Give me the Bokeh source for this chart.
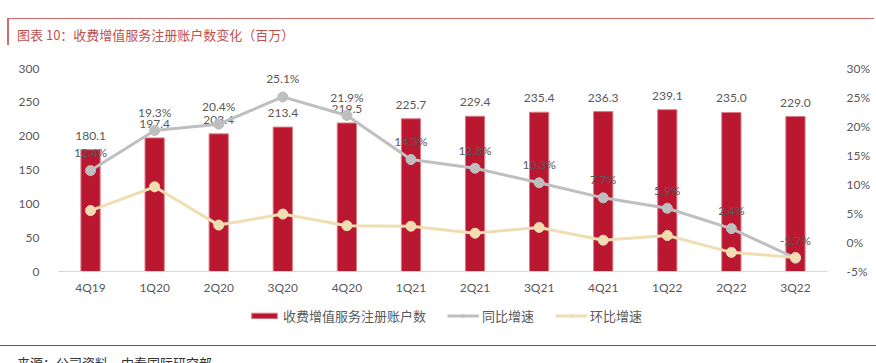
from bokeh.plotting import figure
from bokeh.models import (ColumnDataSource, Range1d, FactorRange, LinearAxis, Div,
                          Legend, LegendItem, PrintfTickFormatter, FixedTicker)
from bokeh.layouts import column
from bokeh.core.properties import value
from bokeh.embed import file_html
from bokeh.resources import INLINE

quarters = ["4Q19", "1Q20", "2Q20", "3Q20", "4Q20", "1Q21", "2Q21", "3Q21",
            "4Q21", "1Q22", "2Q22", "3Q22"]
accounts = [180.1, 197.4, 203.4, 213.4, 219.5, 225.7, 229.4, 235.4, 236.3, 239.1, 235.0, 229.0]
yoy = [12.4, 19.3, 20.4, 25.1, 21.9, 14.3, 12.8, 10.3, 7.7, 5.9, 2.4, -2.7]
qoq = [5.5, 9.6, 3.0, 4.9, 2.9, 2.8, 1.6, 2.6, 0.4, 1.2, -1.7, -2.6]
left_ticks = [0, 50, 100, 150, 200, 250, 300]
right_ticks = [-5, 0, 5, 10, 15, 20, 25, 30]

title_text = "图表 10：收费增值服务注册账户数变化（百万）"
source_text = "来源：公司资料，中泰国际研究部"
bar_name = "收费增值服务注册账户数"
yoy_name = "同比增速"
qoq_name = "环比增速"

W = 876
NUM_FONT = "Lato"
CJK_FONT = "Noto Sans CJK SC"
TXT = "#595959"
BAR_FILL, BAR_LINE = "#BA1830", "#DB7A86"
YOY_C, QOQ_C = "#BFBFBF", "#F0DEB2"

src = ColumnDataSource(dict(
    q=quarters, acc=accounts, yoy=yoy, qoq=qoq,
    acc_txt=[f"{v:.1f}" for v in accounts],
    yoy_txt=[f"{v:.1f}%" for v in yoy],
))

title_div = Div(text=title_text, width=W - 9, height=27, margin=(18, 0, 3, 7),
                styles={"border-top": "1.5px solid #D46A6A",
                        "border-left": "2px solid #D46A6A",
                        "box-sizing": "border-box",
                        "padding-left": "8px", "padding-top": "8px",
                        "line-height": "15px",
                        "font-family": CJK_FONT, "font-size": "13px",
                        "color": "#C0504D", "white-space": "nowrap"})

p = figure(x_range=FactorRange(*quarters), y_range=Range1d(0, 300),
           width=W, height=252, output_backend="svg", toolbar_location=None,
           min_border_left=58, min_border_right=49, min_border_top=20, min_border_bottom=29)
p.extra_y_ranges = {"pct": Range1d(-5, 30)}
p.outline_line_color = None
p.xgrid.grid_line_color = None
p.ygrid.grid_line_color = None

# left axis
ya = p.yaxis[0]
ya.ticker = FixedTicker(ticks=left_ticks)
ya.axis_line_color = None
ya.major_tick_line_color = None
ya.minor_tick_line_color = None
ya.major_label_standoff = 13
ya.major_label_text_font = NUM_FONT
ya.major_label_text_font_size = "12px"
ya.major_label_text_color = TXT

# right axis
ra = LinearAxis(y_range_name="pct", ticker=FixedTicker(ticks=right_ticks),
                formatter=PrintfTickFormatter(format="%d%%"))
ra.axis_line_color = None
ra.major_tick_line_color = None
ra.minor_tick_line_color = None
ra.major_label_standoff = 13
ra.major_label_text_font = NUM_FONT
ra.major_label_text_font_size = "12px"
ra.major_label_text_color = TXT
p.add_layout(ra, "right")

# x axis
xa = p.xaxis[0]
xa.axis_line_color = "#D9D9D9"
xa.axis_line_width = 1
xa.major_tick_line_color = None
xa.minor_tick_line_color = None
xa.major_label_standoff = 2
xa.major_label_text_font = NUM_FONT
xa.major_label_text_font_size = "12px"
xa.major_label_text_color = TXT

p.vbar(x="q", top="acc", width=0.3, source=src,
       fill_color=BAR_FILL, line_color=BAR_LINE, line_width=1)

p.text(x="q", y="acc", text="acc_txt", source=src, y_offset=-14,
       text_align="center", text_baseline="middle",
       text_font=value(NUM_FONT), text_font_size="12px", text_color=TXT)
p.text(x="q", y="yoy", text="yoy_txt", source=src, y_range_name="pct", y_offset=-18,
       text_align="center", text_baseline="middle",
       text_font=value(NUM_FONT), text_font_size="12px", text_color=TXT)

p.line(x="q", y="yoy", source=src, y_range_name="pct", line_color=YOY_C, line_width=3)
p.scatter(x="q", y="yoy", source=src, y_range_name="pct",
          size=10, fill_color=YOY_C, line_color=YOY_C)
p.line(x="q", y="qoq", source=src, y_range_name="pct", line_color=QOQ_C, line_width=3)
p.scatter(x="q", y="qoq", source=src, y_range_name="pct",
          size=10, fill_color=QOQ_C, line_color=QOQ_C)

# legend strip (proxy glyphs with the same styles, placed outside the visible range)
lg = figure(width=W, height=45, output_backend="svg", toolbar_location=None,
            x_range=Range1d(0, 1), y_range=Range1d(0, 1),
            x_axis_type=None, y_axis_type=None,
            min_border=0, min_border_left=0, min_border_right=0,
            min_border_top=0, min_border_bottom=0)
lg.outline_line_color = None
lg.xgrid.grid_line_color = None
lg.ygrid.grid_line_color = None
proxy = ColumnDataSource(dict(x=[-10, -11], y=[-10, -11]))
r_bar = lg.vbar(x="x", top="y", width=0.5, source=proxy,
                fill_color=BAR_FILL, line_color=BAR_LINE, line_width=1)
r_l1 = lg.line(x="x", y="y", source=proxy, line_color=YOY_C, line_width=3)
r_s1 = lg.scatter(x="x", y="y", source=proxy, size=7, fill_color=YOY_C, line_color=YOY_C)
r_l2 = lg.line(x="x", y="y", source=proxy, line_color=QOQ_C, line_width=3)
r_s2 = lg.scatter(x="x", y="y", source=proxy, size=7, fill_color=QOQ_C, line_color=QOQ_C)

legend = Legend(items=[
    LegendItem(label=bar_name, renderers=[r_bar]),
    LegendItem(label=yoy_name, renderers=[r_l1, r_s1]),
    LegendItem(label=qoq_name, renderers=[r_l2, r_s2]),
], orientation="horizontal", location=(190, 20))
legend.glyph_width = 32
legend.glyph_height = 7
legend.label_standoff = 3
legend.spacing = 21
legend.padding = 0
legend.margin = 0
legend.border_line_color = None
legend.background_fill_alpha = 0
legend.label_text_font = CJK_FONT
legend.label_text_font_size = "13px"
legend.label_text_color = TXT
lg.add_layout(legend, "center")

footer_div = Div(text=source_text, width=W, height=18, margin=(0, 0, 0, 0),
                 styles={"border-top": "1.5px solid #595959",
                         "box-sizing": "border-box", "overflow": "hidden",
                         "padding-left": "17px", "padding-top": "9px",
                         "line-height": "15px",
                         "font-family": CJK_FONT, "font-size": "13px",
                         "color": "#333333", "white-space": "nowrap"})

layout = column(title_div, p, lg, footer_div, spacing=0)

open("out.html", "w").write(file_html(layout, INLINE))
